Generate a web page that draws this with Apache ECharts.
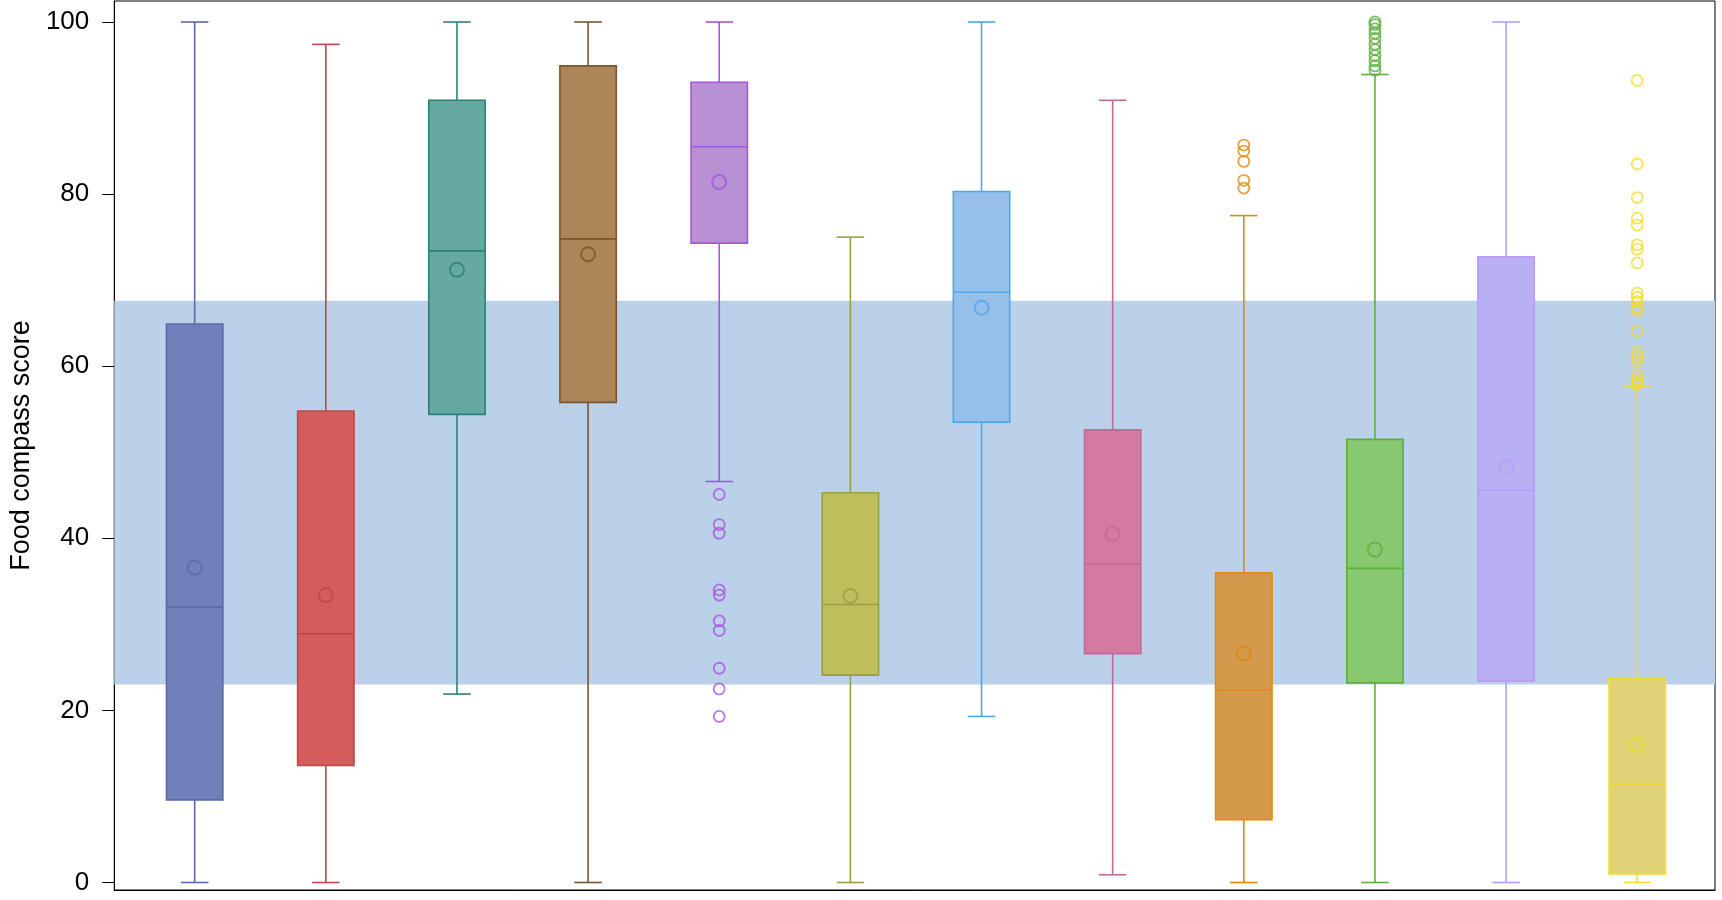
<!DOCTYPE html>
<html><head><meta charset="utf-8">
<script src="https://cdn.jsdelivr.net/npm/echarts@6/dist/echarts.min.js"></script>
<style>html,body{margin:0;padding:0;background:#fff}#c{width:1722px;height:900px}</style>
</head><body><div id="c"></div>
<script>
const categories = ['1','2','3','4','5','6','7','8','9','10','11','12'];
const whiskerLow  = [0,    0,    21.9, 0,    46.6, 0,    19.3, 0.9,  0,    0,    0,    0];
const q1          = [9.6,  13.6, 54.4, 55.8, 74.3, 24.1, 53.5, 26.6, 7.3,  23.2, 23.4, 1.0];
const median      = [32.0, 28.9, 73.4, 74.8, 85.5, 32.3, 68.6, 37.0, 22.4, 36.5, 45.6, 11.3];
const q3          = [64.9, 54.8, 90.9, 94.9, 93.0, 45.3, 80.3, 52.6, 36.0, 51.5, 72.7, 23.7];
const whiskerHigh = [100,  97.4, 100,  100,  100,  75.0, 100,  90.9, 77.5, 93.9, 100,  57.7];
const means       = [36.6, 33.4, 71.2, 73.0, 81.4, 33.3, 66.8, 40.5, 26.6, 38.7, 48.3, 16.0];
const outliers = {
  4:  [45.1, 41.6, 40.6, 34.0, 33.4, 30.4, 29.3, 24.9, 22.5, 19.3],
  8:  [85.7, 85.0, 83.8, 81.6, 80.7],
  9:  [100, 99.7, 99.2, 98.7, 98.1, 97.4, 96.8, 96.1, 95.5, 94.9, 94.4],
  11: [93.2, 83.5, 79.6, 77.2, 76.4, 74.1, 73.6, 72.0, 68.5, 68.0, 67.5, 66.8, 66.5, 64.1, 61.6, 61.1, 60.6, 59.0, 58.5, 58.1, 57.9]
};
const yTicks = [0, 20, 40, 60, 80, 100];
const bandRange = [23.0, 67.6];

const fills   = ['#7080b8','#d45c5c','#66a9a0','#ac8558','#b890d4','#bebe5c','#96c0e8','#d47aa0','#d49a4c','#88c870','#b8b0f2','#e0d478'];
const strokes = ['#5a6aaa','#b84a4a','#2a8278','#7a5530','#a855e0','#9aa040','#4ea6f0','#c46a94','#e08a10','#5cb040','#b89cf8','#f4dc2a'];

const boxData = categories.map((c, i) => [i, whiskerLow[i], q1[i], median[i], q3[i], whiskerHigh[i]]);
const meanData = means.map((v, i) => ({value: [i, v], itemStyle: {color: 'transparent', borderColor: strokes[i], borderWidth: 2}}));
const outlierData = [];
Object.keys(outliers).forEach(k => {
  const i = +k;
  outliers[k].forEach(v => outlierData.push({value: [i, v], itemStyle: {color: 'transparent', borderColor: strokes[i], borderWidth: 1.8}}));
});

const chart = echarts.init(document.getElementById('c'));
chart.setOption({
  animation: false,
  grid: {left: 102, right: 7, top: 1, bottom: 10, show: true, borderColor: '#000', borderWidth: 1, containLabel: false},
  xAxis: {type: 'value', min: -0.613, max: 11.593, axisLine: {show: true, onZero: false, lineStyle: {color: '#000'}}, axisTick: {show: false}, axisLabel: {show: false}, splitLine: {show: false}},
  yAxis: {type: 'value', min: -0.87, max: 102.44,
    name: 'Food compass score', nameLocation: 'middle', nameGap: 77,
    nameTextStyle: {fontFamily: 'Liberation Sans, Arial, sans-serif', fontSize: 27, color: '#000'},
    axisLine: {show: true, onZero: false, lineStyle: {color: '#000'}},
    axisTick: {show: true, length: 12, customValues: yTicks, lineStyle: {color: '#000'}},
    axisLabel: {customValues: yTicks, margin: 25, fontFamily: 'Liberation Sans, Arial, sans-serif', fontSize: 26, color: '#000'},
    splitLine: {show: false}},
  series: [
    {type: 'line', data: [], z: 1, silent: true,
      markArea: {silent: true, itemStyle: {color: '#bbd1ea'}, data: [[{yAxis: bandRange[0]}, {yAxis: bandRange[1]}]]}},
    {type: 'custom', z: 3, data: boxData, encode: {x: 0, y: [1,2,3,4,5]},
      renderItem: function (params, api) {
        const i = api.value(0);
        const lo = api.coord([i, api.value(1)]);
        const a = api.coord([i, api.value(2)]);
        const m = api.coord([i, api.value(3)]);
        const b = api.coord([i, api.value(4)]);
        const hi = api.coord([i, api.value(5)]);
        const x = lo[0];
        const unit = api.size([1, 0])[0];
        const hw = unit * 0.215, cw = unit * 0.105;
        const s = strokes[i], f = fills[i];
        const ls = {stroke: s, lineWidth: 1.6};
        return {type: 'group', children: [
          {type: 'line', shape: {x1: x, y1: hi[1], x2: x, y2: b[1]}, style: ls},
          {type: 'line', shape: {x1: x, y1: a[1], x2: x, y2: lo[1]}, style: ls},
          {type: 'line', shape: {x1: x - cw, y1: hi[1], x2: x + cw, y2: hi[1]}, style: ls},
          {type: 'line', shape: {x1: x - cw, y1: lo[1], x2: x + cw, y2: lo[1]}, style: ls},
          {type: 'rect', shape: {x: x - hw, y: b[1], width: 2 * hw, height: a[1] - b[1]}, style: {fill: f, stroke: s, lineWidth: 1.6}},
          {type: 'line', shape: {x1: x - hw, y1: m[1], x2: x + hw, y2: m[1]}, style: ls}
        ]};
      }},
    {type: 'scatter', z: 4, symbol: 'circle', symbolSize: 14, data: meanData},
    {type: 'scatter', z: 4, symbol: 'circle', symbolSize: 11, data: outlierData}
  ]
});
</script>
</body></html>
